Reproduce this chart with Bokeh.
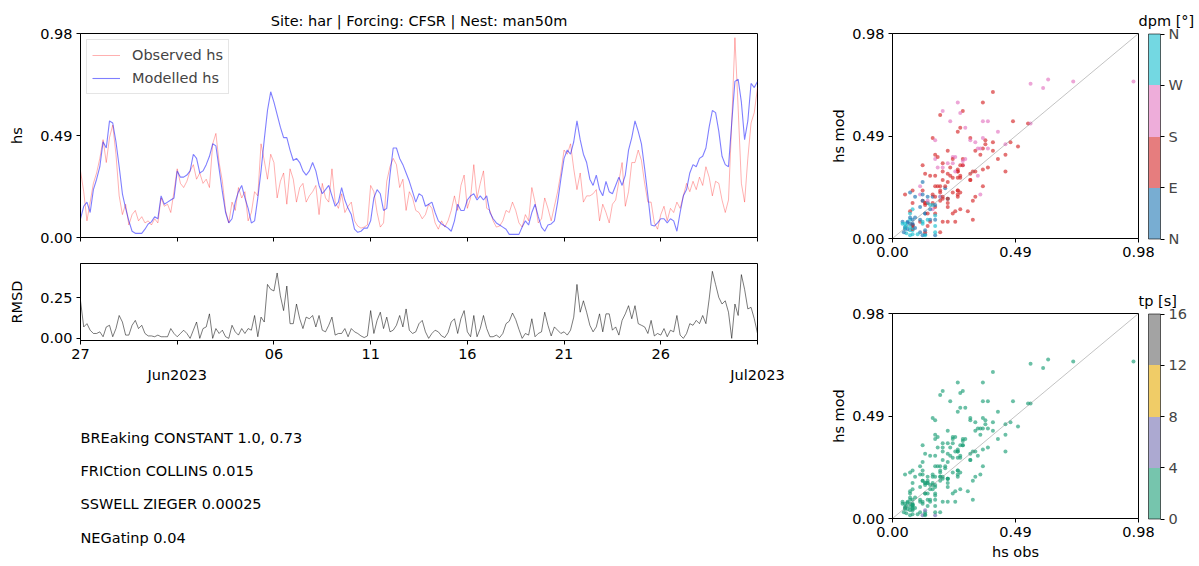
from bokeh.plotting import figure
from bokeh.layouts import row, column
from bokeh.models import (FixedTicker, LinearAxis, ColumnDataSource, ColorBar,
                          LinearColorMapper, Label, Range1d, NumeralTickFormatter,
                          CustomLabelingPolicy)
from bokeh.embed import file_html
from bokeh.resources import INLINE

FONT = "DejaVu Sans"
FS = "14.5px"

# ---------------- data ----------------
step_hours = 4  # samples every 4 h starting 2023-05-27 00:00
obs_hs = [
    0.32, 0.22, 0.08, 0.17, 0.26, 0.31, 0.38, 0.47, 0.36, 0.48,
    0.54, 0.40, 0.20, 0.11, 0.16, 0.06, 0.11, 0.13, 0.08, 0.10,
    0.07, 0.08, 0.06, 0.09, 0.07, 0.19, 0.15, 0.16, 0.12, 0.22,
    0.33, 0.26, 0.24, 0.27, 0.32, 0.35, 0.28, 0.31, 0.26, 0.28,
    0.24, 0.45, 0.50, 0.36, 0.27, 0.13, 0.07, 0.17, 0.13, 0.24,
    0.19, 0.22, 0.08, 0.12, 0.22, 0.20, 0.45, 0.37, 0.28, 0.40,
    0.36, 0.19, 0.27, 0.31, 0.16, 0.33, 0.28, 0.17, 0.24, 0.26,
    0.17, 0.20, 0.22, 0.25, 0.11, 0.26, 0.19, 0.17, 0.33, 0.17,
    0.14, 0.21, 0.12, 0.15, 0.17, 0.08, 0.055, 0.045, 0.05, 0.06,
    0.25, 0.22, 0.12, 0.05, 0.07, 0.27, 0.34, 0.38, 0.35, 0.24,
    0.28, 0.13, 0.22, 0.19, 0.13, 0.12, 0.09, 0.11, 0.16, 0.14,
    0.07, 0.04, 0.08, 0.05, 0.08, 0.13, 0.20, 0.13, 0.25, 0.30,
    0.14, 0.19, 0.35, 0.19, 0.26, 0.32, 0.14, 0.13, 0.08, 0.05,
    0.055, 0.08, 0.13, 0.12, 0.17, 0.13, 0.07, 0.05, 0.11, 0.08,
    0.24, 0.17, 0.07, 0.09, 0.19, 0.14, 0.08, 0.15, 0.22, 0.31,
    0.42, 0.40, 0.45, 0.33, 0.23, 0.31, 0.17, 0.20, 0.20, 0.21,
    0.23, 0.08, 0.16, 0.12, 0.07, 0.16, 0.18, 0.27, 0.36, 0.15,
    0.22, 0.36, 0.36, 0.42, 0.37, 0.26, 0.17, 0.17, 0.07, 0.04,
    0.11, 0.15, 0.08, 0.14, 0.12, 0.17, 0.14, 0.20, 0.26, 0.22,
    0.27, 0.23, 0.29, 0.25, 0.34, 0.29, 0.20, 0.27, 0.26, 0.18,
    0.12, 0.18, 0.55, 0.96, 0.62, 0.26, 0.17, 0.38, 0.55, 0.60,
    0.72,
]
mod_hs = [
    0.09, 0.15, 0.17, 0.12, 0.23, 0.28, 0.34, 0.46, 0.43, 0.56,
    0.55, 0.46, 0.34, 0.21, 0.14, 0.08, 0.03, 0.02, 0.02, 0.02,
    0.04, 0.065, 0.075, 0.10, 0.09, 0.20, 0.16, 0.17, 0.18, 0.19,
    0.32, 0.29, 0.29, 0.30, 0.32, 0.40, 0.38, 0.31, 0.32, 0.35,
    0.39, 0.45, 0.44, 0.33, 0.22, 0.12, 0.07, 0.09, 0.17, 0.22,
    0.25, 0.19, 0.14, 0.07, 0.08, 0.19, 0.32, 0.47, 0.61, 0.70,
    0.65, 0.59, 0.53, 0.48, 0.48, 0.42, 0.37, 0.38, 0.36, 0.32,
    0.30, 0.32, 0.36, 0.32, 0.25, 0.21, 0.23, 0.25, 0.20, 0.15,
    0.17, 0.24, 0.18, 0.14, 0.11, 0.04, 0.025, 0.03, 0.045, 0.045,
    0.08, 0.19, 0.23, 0.21, 0.13, 0.14, 0.30, 0.43, 0.43, 0.38,
    0.35, 0.31, 0.27, 0.22, 0.17, 0.21, 0.20, 0.15, 0.16, 0.17,
    0.12, 0.08, 0.065, 0.055, 0.045, 0.03, 0.08, 0.16, 0.13, 0.13,
    0.18, 0.20, 0.21, 0.18, 0.20, 0.18, 0.20, 0.12, 0.09, 0.07,
    0.06, 0.05, 0.04, 0.015, 0.015, 0.015, 0.015, 0.05, 0.08, 0.06,
    0.12, 0.16, 0.10, 0.05, 0.03, 0.06, 0.065, 0.08, 0.17, 0.28,
    0.38, 0.42, 0.40, 0.46, 0.56, 0.47, 0.40, 0.36, 0.28, 0.25,
    0.30, 0.23, 0.20, 0.27, 0.22, 0.21, 0.25, 0.29, 0.25, 0.30,
    0.42, 0.48, 0.56, 0.51, 0.45, 0.33, 0.20, 0.06, 0.055, 0.07,
    0.09, 0.09, 0.07, 0.09, 0.08, 0.03, 0.12, 0.20, 0.23, 0.31,
    0.35, 0.34, 0.38, 0.39, 0.43, 0.53, 0.61, 0.60, 0.51, 0.39,
    0.35, 0.34, 0.55, 0.75, 0.76, 0.65, 0.47, 0.56, 0.74, 0.72,
    0.75,
]
# mean wave direction (deg) and peak period (s), one value per 12 h
dpm_12h = [140, 140, 150, 160, 200, 40, 330, 60, 300, 130,
           120, 150, 160, 190, 140, 70, 100, 320, 130, 140,
           160, 150, 200, 170, 210, 150, 120, 80, 340, 20,
           110, 130, 190, 150, 120, 60, 310, 45, 100, 130,
           220, 140, 70, 290, 30, 350, 110, 85, 120, 140,
           150, 200, 130, 160, 80, 120, 140, 190, 150, 320,
           50, 300, 110, 130, 200, 210, 160, 230, 240, 220,
           250]
tp_12h = [3.1, 3.3, 3.5, 3.6, 3.4, 2.9, 2.6, 2.8, 3.0, 3.2,
          3.4, 3.5, 3.6, 3.7, 3.5, 3.1, 2.9, 2.7, 3.0, 3.3,
          3.6, 3.8, 3.7, 3.5, 3.4, 3.3, 3.1, 2.9, 2.6, 2.5,
          2.8, 3.1, 3.4, 3.5, 3.3, 3.0, 2.8, 2.7, 2.9, 3.2,
          3.4, 3.3, 3.0, 2.8, 4.5, 3.6, 3.1, 2.9, 3.2, 3.5,
          3.7, 3.8, 3.6, 3.4, 3.1, 3.3, 3.5, 3.7, 3.6, 3.0,
          2.7, 2.9, 3.2, 3.4, 3.6, 3.7, 3.8, 3.9, 3.8, 3.7,
          3.9]

tick_days = [0, 5, 10, 15, 20, 25, 30, 35]
tick_labels = ["27", "", "06", "11", "16", "21", "26", ""]
month_days = [5, 35]
month_labels = ["Jun2023", "Jul2023"]
hs_ticks = [0.0, 0.49, 0.98]
rmsd_ticks = [0.0, 0.25]
dir_ticks = [0, 90, 180, 270, 360]
dir_labels = ["N", "E", "S", "W", "N"]
tp_ticks = [0, 4, 8, 12, 16]
dir_palette = ["#1f77b4", "#d62728", "#e377c2", "#17becf"]
tp_palette = ["#1b9e77", "#7570b3", "#e6ab02", "#666666"]
main_title = "Site: har | Forcing: CFSR | Nest: man50m"
param_lines = ["BREaking CONSTANT 1.0, 0.73", "FRICtion COLLINS 0.015",
               "SSWELL ZIEGER 0.00025", "NEGatinp 0.04"]

n = len(obs_hs)
assert n == len(mod_hs)
t_days = [i * step_hours / 24 for i in range(n)]
rmsd = [abs(o - m) for o, m in zip(obs_hs, mod_hs)]
per12 = 12 // step_hours
dpm = [dpm_12h[i // per12] for i in range(n)]
tp = [tp_12h[i // per12] for i in range(n)]

src = ColumnDataSource(dict(t=t_days, obs=obs_hs, mod=mod_hs, rmsd=rmsd, dpm=dpm, tp=tp))

# indices (within tick list) of ticks whose label is empty -> not drawn
empty_idx = [i for i, s in enumerate(tick_labels) if s == ""]
hide_all = CustomLabelingPolicy(code="for (const i of Array.from(indices)) { indices.unset(i) } return indices")
hide_empty = CustomLabelingPolicy(
    args=dict(skip=empty_idx),
    code="for (const i of skip) { indices.unset(i) } return indices")


def style(p):
    p.outline_line_color = "black"
    p.outline_line_width = 1
    p.outline_line_alpha = 1
    p.xgrid.visible = False
    p.ygrid.visible = False
    p.background_fill_color = "white"
    p.border_fill_color = "white"
    for ax in p.axis:
        ax.axis_line_color = "black"
        ax.major_tick_line_color = "black"
        ax.minor_tick_line_color = None
        ax.major_tick_in = 0
        ax.major_tick_out = 4
        ax.major_label_standoff = 4
        ax.major_label_text_font = FONT
        ax.major_label_text_font_size = FS
        ax.major_label_text_color = "black"
        ax.axis_label_text_font = FONT
        ax.axis_label_text_font_size = FS
        ax.axis_label_text_font_style = "normal"
        ax.axis_label_text_color = "black"


# ---------------- time series ----------------
p1 = figure(width=800, height=245, x_range=Range1d(tick_days[0], tick_days[-1]),
            y_range=Range1d(hs_ticks[0], hs_ticks[-1]), output_backend="svg",
            toolbar_location=None, min_border_left=80, min_border_right=43,
            min_border_top=33, min_border_bottom=8, title=main_title)
p1.line("t", "obs", source=src, color="red", alpha=0.35, line_width=0.9, legend_label="Observed hs")
p1.line("t", "mod", source=src, color="blue", alpha=0.5, line_width=1.1, legend_label="Modelled hs")
style(p1)
p1.title.align = "center"
p1.title.text_font = FONT
p1.title.text_font_size = FS
p1.title.text_font_style = "normal"
p1.title.text_color = "black"
p1.xaxis.ticker = FixedTicker(ticks=tick_days)
p1.xaxis.major_label_policy = hide_all
p1.xaxis.major_label_text_font_size = "0px"
p1.xaxis.major_label_standoff = 0
p1.yaxis.ticker = FixedTicker(ticks=hs_ticks)
p1.yaxis.formatter = NumeralTickFormatter(format="0.00")
p1.yaxis.axis_label = "hs"
p1.yaxis.axis_label_standoff = 12
lg = p1.legend[0]
lg.location = "top_left"
lg.label_text_font = FONT
lg.label_text_font_size = FS
lg.glyph_width = 28
lg.glyph_height = 20
lg.label_height = 20
lg.label_standoff = 12
lg.spacing = 3
lg.padding = 5
lg.margin = 6
lg.border_line_color = "#cccccc"
lg.background_fill_alpha = 0.8

# ---------------- RMSD ----------------
p2 = figure(width=800, height=150, x_range=p1.x_range, y_range=Range1d(-0.013, 0.458),
            output_backend="svg", toolbar_location=None, min_border_left=80,
            min_border_right=43, min_border_top=18, min_border_bottom=55, title=None)
p2.line("t", "rmsd", source=src, color="black", alpha=0.75, line_width=0.7)
ax2 = LinearAxis(ticker=FixedTicker(ticks=month_days),
                 major_label_overrides={d: s for d, s in zip(month_days, month_labels)})
p2.add_layout(ax2, "below")
style(p2)
p2.xaxis[0].ticker = FixedTicker(ticks=tick_days)
p2.xaxis[0].major_label_overrides = {d: s for d, s in zip(tick_days, tick_labels)}
p2.xaxis[0].major_label_policy = hide_empty
ax2.axis_line_color = None
ax2.major_tick_line_color = None
ax2.major_tick_out = 0
ax2.major_label_standoff = 5
p2.yaxis.ticker = FixedTicker(ticks=rmsd_ticks)
p2.yaxis.formatter = NumeralTickFormatter(format="0.00")
p2.yaxis.axis_label = "RMSD"
p2.yaxis.axis_label_standoff = 12

# ---------------- parameter text ----------------
p3 = figure(width=800, height=171, x_range=Range1d(78, 755), y_range=Range1d(0, 171),
            output_backend="svg", toolbar_location=None, min_border=0,
            min_border_left=80, min_border_right=43, title=None,
            x_axis_location=None, y_axis_location=None)
p3.outline_line_color = None
p3.xgrid.visible = False
p3.ygrid.visible = False
for k, line in enumerate(param_lines):
    p3.add_layout(Label(x=78, y=129 - k * 33.4, text=line, text_font=FONT,
                        text_font_size=FS, text_baseline="middle", text_color="black"))

# ---------------- scatter plots ----------------
dir_mapper = LinearColorMapper(palette=dir_palette, low=dir_ticks[0], high=dir_ticks[-1])
tp_mapper = LinearColorMapper(palette=tp_palette, low=tp_ticks[0], high=tp_ticks[-1])
FRAME_H = 205


def scatter_fig(height, top, bottom, mapper, field, ticks, labels, cb_title, xlabel):
    s = figure(width=399, height=height, x_range=Range1d(hs_ticks[0], hs_ticks[-1]),
               y_range=Range1d(hs_ticks[0], hs_ticks[-1]), output_backend="svg",
               toolbar_location=None, min_border_left=92, min_border_right=59,
               min_border_top=top, min_border_bottom=bottom, title=cb_title)
    s.scatter("obs", "mod", source=src, size=4, line_color=None,
              fill_color={"field": field, "transform": mapper}, fill_alpha=0.65)
    s.line(x=[hs_ticks[0], hs_ticks[-1]], y=[hs_ticks[0], hs_ticks[-1]],
           color="gray", alpha=0.6, line_width=0.8)
    style(s)
    s.xaxis.ticker = FixedTicker(ticks=hs_ticks)
    s.yaxis.ticker = FixedTicker(ticks=hs_ticks)
    s.xaxis.formatter = NumeralTickFormatter(format="0.00")
    s.yaxis.formatter = NumeralTickFormatter(format="0.00")
    s.yaxis.axis_label = "hs mod"
    s.yaxis.axis_label_standoff = 2
    if xlabel:
        s.xaxis.axis_label = xlabel
        s.xaxis.axis_label_standoff = 4
    s.title.align = "left"
    s.title.offset = 246
    s.title.text_font = FONT
    s.title.text_font_size = FS
    s.title.text_font_style = "normal"
    s.title.text_color = "black"
    cb = ColorBar(color_mapper=mapper, ticker=FixedTicker(ticks=ticks),
                  major_label_overrides={t: l for t, l in zip(ticks, labels)},
                  width=12, height=FRAME_H, padding=10, margin=0,
                  location="center_left",
                  scale_alpha=0.6, bar_line_color="black",
                  major_tick_line_color="black", major_tick_in=0, major_tick_out=4,
                  label_standoff=4, major_label_text_font=FONT,
                  major_label_text_font_size=FS, background_fill_color=None)
    s.add_layout(cb, "right")
    return s


s1 = scatter_fig(283, 33, 45, dir_mapper, "dpm", dir_ticks, dir_labels, "dpm [°]", None)
s2 = scatter_fig(283, 30, 48, tp_mapper, "tp", tp_ticks, [str(t) for t in tp_ticks], "tp  [s]", "hs obs")

layout = row(column(p1, p2, p3), column(s1, s2))
open("out.html", "w").write(file_html(layout, INLINE))
